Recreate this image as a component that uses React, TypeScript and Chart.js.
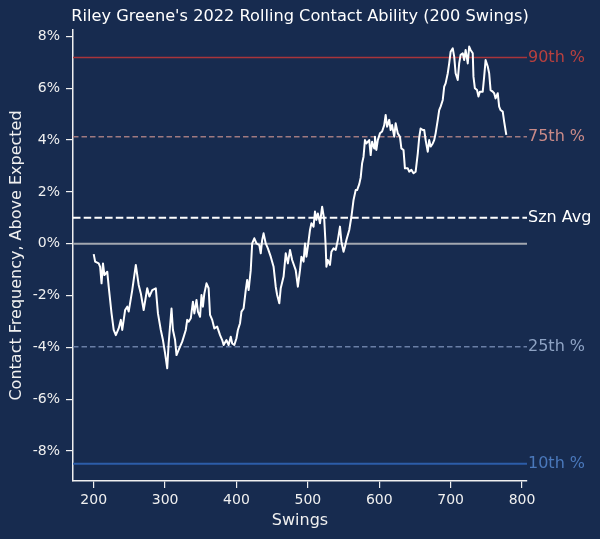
import { useEffect, useRef } from "react";
import { Chart, registerables } from "chart.js";

Chart.register(...registerables);

const FONT = "'DejaVu Sans', sans-serif";
const BG = "#172b4f";

// rolling contact frequency above expected, in percent
const swings = [
  200, 202, 207, 209, 211, 213, 215, 219, 221, 225, 228, 231, 235, 238, 240, 244, 247, 249, 254, 259,
  263, 266, 270, 275, 278, 282, 287, 290, 294, 297, 300, 303, 305, 309, 311, 314, 316, 319, 324, 329,
  331, 333, 336, 339, 341, 344, 346, 349, 351, 353, 355, 358, 361, 363, 366, 369, 373, 377, 380, 382,
  386, 389, 392, 394, 397, 400, 402, 405, 407, 410, 413, 415, 417, 420, 422, 425, 428, 432, 434, 436,
  438, 441, 444, 448, 452, 455, 457, 460, 462, 466, 469, 472, 475, 478, 483, 486, 489, 491, 494, 496,
  498, 500, 503, 505, 508, 510, 512, 514, 517, 520, 523, 525, 526, 528, 531, 533, 536, 539, 542, 545,
  547, 550, 552, 554, 558, 561, 564, 567, 569, 572, 574, 576, 578, 580, 582, 586, 588, 590, 593, 594,
  596, 598, 601, 604, 607, 609, 611, 614, 616, 618, 621, 623, 626, 629, 631, 634, 636, 640, 642, 645,
  648, 651, 654, 656, 658, 661, 663, 665, 668, 670, 672, 675, 677, 679, 682, 684, 686, 689, 691, 693,
  696, 698, 700, 703, 705, 707, 710, 712, 714, 717, 719, 721, 724, 726, 728, 731, 732, 734, 737, 739,
  741, 745, 747, 749, 752, 754, 756, 759, 761, 763, 766, 768, 770, 773, 775, 778,
];
const contactAboveExp = [
  -0.4, -0.69, -0.76, -0.89, -1.53, -0.76, -1.21, -1.08, -1.66, -2.69, -3.33, -3.53, -3.27, -2.94, -3.33, -2.56, -2.43, -2.62, -1.79, -0.82,
  -1.59, -1.92, -2.56, -1.72, -2.04, -1.79, -1.72, -2.69, -3.33, -3.72, -4.23, -4.81, -3.85, -2.5, -3.33, -3.72, -4.3, -4.1, -3.78, -3.33,
  -2.94, -3.01, -2.88, -2.24, -2.69, -2.17, -2.62, -2.82, -1.98, -2.43, -1.92, -1.53, -1.72, -2.75, -2.94, -3.27, -3.2, -3.53, -3.72, -3.91,
  -3.72, -3.91, -3.59, -3.85, -3.91, -3.65, -3.33, -3.07, -2.62, -2.5, -1.79, -1.4, -1.79, -1.02, 0.01, 0.21, 0.01, -0.05, -0.37, 0.14,
  0.4, 0.01, -0.18, -0.5, -0.89, -1.66, -1.98, -2.3, -1.72, -1.27, -0.37, -0.76, -0.24, -0.63, -1.02, -1.66, -1.02, -0.5, -0.69, 0.01,
  -0.5, -0.11, 0.53, 0.79, 0.66, 1.24, 0.92, 1.17, 0.79, 1.43, 0.92, -0.11, -0.89, -0.63, -0.82, -0.31, -0.18, -0.24, 0.14, 0.66,
  0.08, -0.31, -0.11, 0.14, 0.53, 1.04, 1.69, 2.07, 2.07, 2.3, 2.55, 3.1, 3.36, 4.0, 3.87, 4.0, 3.42, 3.94, 3.68, 4.13,
  3.62, 4.0, 4.26, 4.33, 4.58, 4.97, 4.52, 4.78, 4.39, 4.58, 4.13, 4.65, 4.26, 4.13, 3.68, 3.62, 2.91, 2.91, 2.78, 2.85,
  2.72, 2.78, 3.49, 4.1, 4.45, 4.39, 4.39, 4.0, 3.55, 4.0, 3.75, 3.87, 4.0, 4.26, 4.78, 5.16, 5.29, 5.55, 6.06, 6.19,
  6.58, 6.96, 7.41, 7.54, 7.22, 6.58, 6.32, 6.96, 7.29, 7.35, 7.09, 7.48, 6.96, 7.61, 7.48, 7.35, 6.45, 6.0, 5.93, 5.68,
  5.87, 5.87, 6.45, 7.09, 6.84, 6.58, 5.93, 5.87, 5.81, 5.61, 5.81, 5.29, 5.16, 5.1, 4.71, 4.2,
];

// reference levels (percent)
const refNames = ["90th %", "75th %", "Szn Avg", "25th %", "10th %"];
const refValues = [7.19, 4.13, 1.0, -3.98, -8.49];

const xTicks = [200, 300, 400, 500, 600, 700, 800];
const yTicks = [-8, -6, -4, -2, 0, 2, 4, 6, 8];

const X_MIN = 171;
const X_MAX = 807;
const Y_MIN = -9.16;
const Y_MAX = 8.25;

const refStyles = [
  { line: "#a8343b", text: "#b8403f", width: 1.5, dash: [] as number[] },
  { line: "#a07a80", text: "#c98a88", width: 1.5, dash: [5.5, 3] },
  { line: "#ffffff", text: "#ffffff", width: 2, dash: [7.5, 3.2] },
  { line: "#6a7fa6", text: "#8ea3c4", width: 1.5, dash: [5.5, 3] },
  { line: "#2c5da8", text: "#4a78bb", width: 2, dash: [] as number[] },
];

const backgroundPlugin = {
  id: "bg",
  beforeDraw(chart: Chart) {
    const { ctx, width, height } = chart;
    ctx.save();
    ctx.fillStyle = BG;
    ctx.fillRect(0, 0, width, height);
    ctx.restore();
  },
};

const labelsPlugin = {
  id: "refLabels",
  afterDatasetsDraw(chart: Chart) {
    const { ctx, chartArea } = chart;
    const y = chart.scales.y;
    ctx.save();
    ctx.font = `16px ${FONT}`;
    ctx.textAlign = "left";
    ctx.textBaseline = "middle";
    refNames.forEach((name, i) => {
      ctx.fillStyle = refStyles[i].text;
      ctx.fillText(name, chartArea.right + 1, y.getPixelForValue(refValues[i]));
    });
    // title
    ctx.fillStyle = "#ffffff";
    ctx.font = `16.2px ${FONT}`;
    ctx.textAlign = "center";
    ctx.fillText("Riley Greene's 2022 Rolling Contact Ability (200 Swings)", (chartArea.left + chartArea.right) / 2, 17);
    ctx.restore();
  },
};

export default function App() {
  const chartRef = useRef<HTMLCanvasElement | null>(null);
  const chartInstance = useRef<Chart | null>(null);

  useEffect(() => {
    document.body.style.margin = "0";
    document.body.style.background = BG;
    if (!chartRef.current) return;
    if (chartInstance.current) chartInstance.current.destroy();
    const ctx = chartRef.current.getContext("2d");
    if (!ctx) return;

    const mainData = swings.map((s, i) => ({ x: s, y: contactAboveExp[i] }));

    chartInstance.current = new Chart(ctx, {
      type: "line",
      data: {
        datasets: [
          {
            label: "Rolling",
            data: mainData,
            borderColor: "#ffffff",
            borderWidth: 2,
            borderJoinStyle: "round",
            pointRadius: 0,
            tension: 0,
          },
          {
            label: "zero",
            data: [
              { x: X_MIN, y: 0 },
              { x: X_MAX, y: 0 },
            ],
            borderColor: "#a3a8b0",
            borderWidth: 2,
            pointRadius: 0,
          },
          ...refValues.map((v, i) => ({
            label: refNames[i],
            data: [
              { x: X_MIN, y: v },
              { x: X_MAX, y: v },
            ],
            borderColor: refStyles[i].line,
            borderWidth: refStyles[i].width,
            borderDash: refStyles[i].dash,
            pointRadius: 0,
          })),
        ],
      },
      options: {
        animation: false,
        responsive: true,
        maintainAspectRatio: false,
        layout: { padding: { top: 30, right: 73, left: 0, bottom: 0 } },
        plugins: {
          legend: { display: false },
          tooltip: { enabled: false },
        },
        scales: {
          x: {
            type: "linear",
            min: X_MIN,
            max: X_MAX,
            afterBuildTicks: (scale: any) => {
              scale.ticks = xTicks.map((v) => ({ value: v }));
            },
            afterFit: (scale: any) => {
              scale.height = 58;
            },
            grid: {
              display: true,
              drawOnChartArea: false,
              drawTicks: true,
              tickLength: 7,
              color: "#f0f0f0",
              lineWidth: 1.2,
            },
            border: { display: true, color: "#f0f0f0", width: 1.5 },
            ticks: {
              color: "#f0f0f0",
              padding: 4,
              maxRotation: 0,
              font: { family: FONT, size: 14 },
            },
            title: {
              display: true,
              text: "Swings",
              color: "#f0f0f0",
              font: { family: FONT, size: 16 },
              padding: { top: 0, bottom: 9 },
            },
          },
          y: {
            type: "linear",
            min: Y_MIN,
            max: Y_MAX,
            afterBuildTicks: (scale: any) => {
              scale.ticks = yTicks.map((v) => ({ value: v }));
            },
            afterFit: (scale: any) => {
              scale.width = 73;
            },
            grid: {
              display: true,
              drawOnChartArea: false,
              drawTicks: true,
              tickLength: 7,
              color: "#f0f0f0",
              lineWidth: 1.2,
            },
            border: { display: true, color: "#f0f0f0", width: 1.5 },
            ticks: {
              color: "#f0f0f0",
              padding: 6,
              font: { family: FONT, size: 14 },
              callback: (v: any) => `${v}%`,
            },
            title: {
              display: true,
              text: "Contact Frequency, Above Expected",
              color: "#f0f0f0",
              font: { family: FONT, size: 16 },
              padding: { top: 7, bottom: 0 },
            },
          },
        },
      },
      plugins: [backgroundPlugin, labelsPlugin],
    });

    return () => {
      if (chartInstance.current) {
        chartInstance.current.destroy();
        chartInstance.current = null;
      }
    };
  }, []);

  return (
    <div style={{ width: 600, height: 539, position: "relative" }}>
      <canvas ref={chartRef} />
    </div>
  );
}
